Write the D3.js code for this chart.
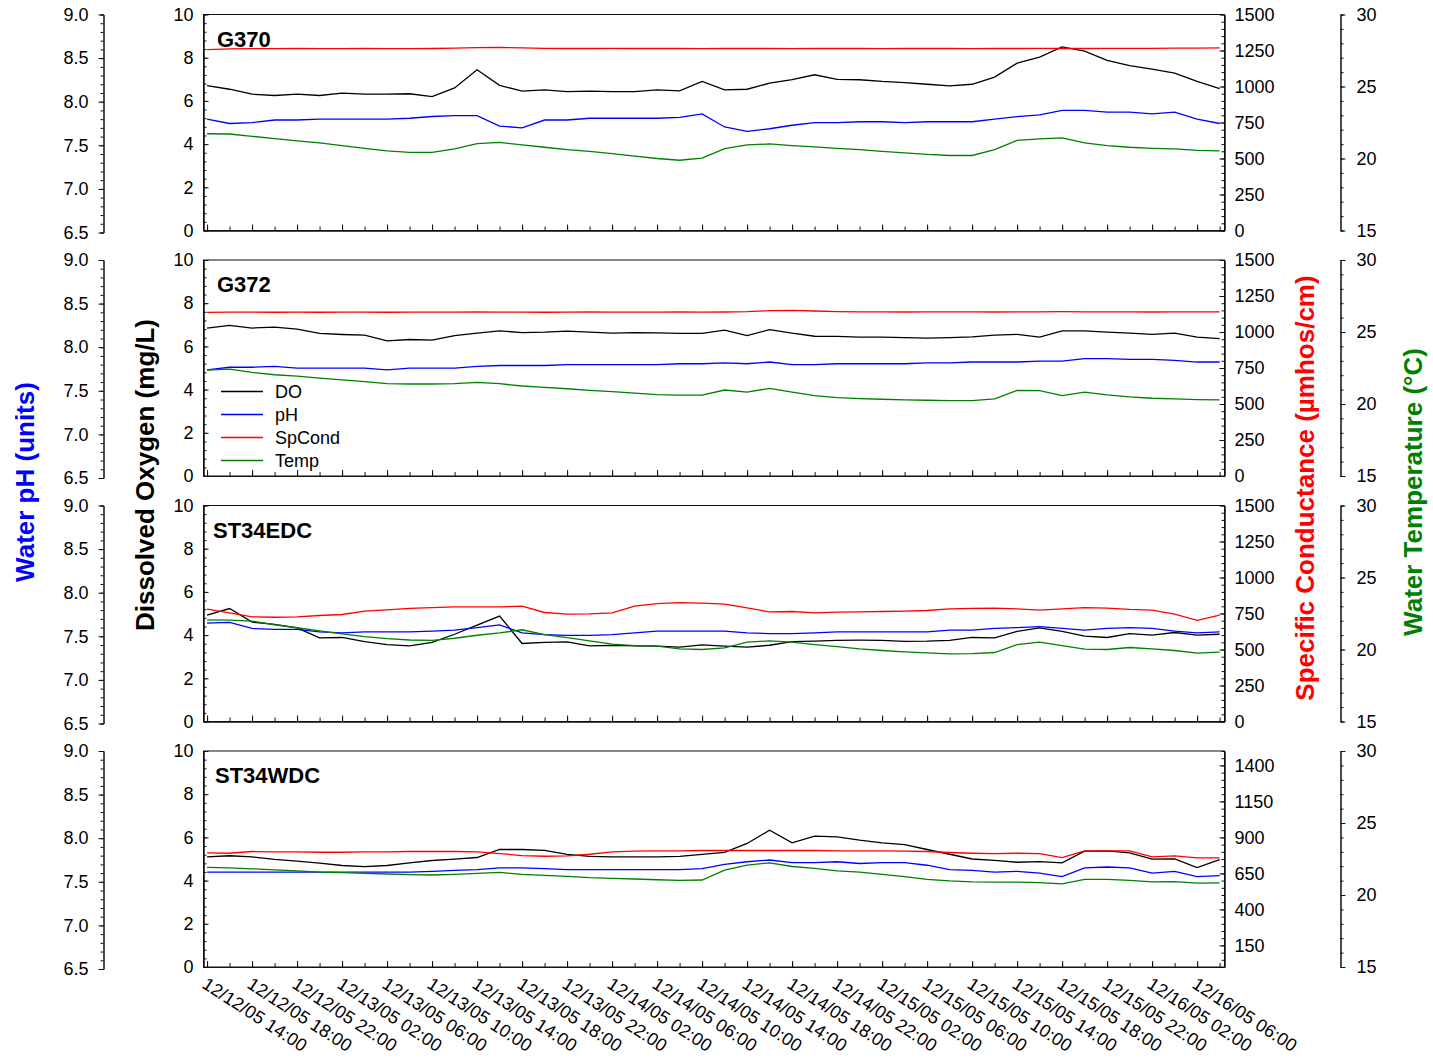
<!DOCTYPE html>
<html>
<head>
<meta charset="utf-8">
<script src="https://cdn.jsdelivr.net/npm/d3@7"></script>
<style>
  body { margin: 0; background: #fff; }
  text { font-family: "Liberation Sans", Arial, sans-serif; }
</style>
</head>
<body>
<svg width="1433" height="1060"></svg>
<script>
// sample times: every 2 hours from 12/12/05 14:00 to 12/16/05 08:00
var sampleTimes = d3.range(46).map(function(i) { return new Date(2005, 11, 12, 14 + 2 * i); });

var stations = ["G370", "G372", "ST34EDC", "ST34WDC"];

// G370
var doG370 = [6.71,6.54,6.31,6.25,6.31,6.25,6.36,6.31,6.31,6.33,6.20,6.60,7.44,6.72,6.45,6.51,6.43,6.45,6.43,6.43,6.51,6.46,6.90,6.51,6.54,6.82,6.98,7.21,7.00,6.98,6.90,6.85,6.77,6.70,6.77,7.10,7.75,8.03,8.50,8.30,7.88,7.63,7.47,7.29,6.90,6.57];
var phG370 = [7.80,7.75,7.76,7.79,7.79,7.80,7.80,7.80,7.80,7.81,7.83,7.84,7.84,7.72,7.70,7.79,7.79,7.81,7.81,7.81,7.81,7.82,7.86,7.71,7.66,7.69,7.73,7.76,7.76,7.77,7.77,7.76,7.77,7.77,7.77,7.80,7.83,7.85,7.90,7.90,7.88,7.88,7.86,7.88,7.80,7.75];
var scG370 = [1256,1261,1263,1263,1264,1263,1263,1264,1263,1263,1264,1266,1270,1272,1268,1265,1264,1264,1265,1264,1264,1264,1263,1264,1264,1264,1263,1264,1264,1264,1263,1264,1264,1264,1263,1264,1264,1265,1264,1264,1265,1265,1265,1266,1267,1268];
var tempG370 = [21.72,21.70,21.54,21.38,21.22,21.08,20.90,20.71,20.53,20.43,20.43,20.67,21.03,21.12,20.94,20.78,20.62,20.50,20.34,20.16,20.00,19.88,20.02,20.69,20.94,21.01,20.90,20.81,20.71,20.62,20.50,20.39,20.28,20.21,20.21,20.62,21.26,21.36,21.43,21.08,20.90,20.78,20.71,20.67,20.57,20.53];

// G372
var doG372 = [6.85,6.97,6.85,6.89,6.80,6.60,6.55,6.52,6.26,6.32,6.29,6.50,6.61,6.72,6.64,6.66,6.71,6.66,6.61,6.64,6.63,6.60,6.60,6.75,6.50,6.78,6.61,6.47,6.46,6.43,6.43,6.41,6.38,6.41,6.44,6.52,6.56,6.43,6.72,6.72,6.66,6.61,6.56,6.61,6.43,6.36];
var phG372 = [7.74,7.77,7.77,7.78,7.76,7.76,7.76,7.76,7.74,7.76,7.76,7.76,7.78,7.79,7.79,7.79,7.80,7.80,7.80,7.80,7.80,7.81,7.81,7.82,7.81,7.83,7.80,7.80,7.81,7.81,7.81,7.81,7.82,7.82,7.83,7.83,7.83,7.84,7.84,7.87,7.87,7.86,7.86,7.85,7.83,7.83];
var scG372 = [1136,1138,1138,1137,1138,1137,1138,1138,1137,1138,1138,1138,1139,1138,1138,1137,1138,1139,1138,1138,1138,1139,1138,1139,1141,1148,1150,1146,1142,1140,1140,1139,1140,1140,1140,1139,1140,1140,1141,1140,1140,1140,1139,1140,1140,1140];
var tempG372 = [22.35,22.42,22.19,22.03,21.94,21.80,21.68,21.55,21.41,21.39,21.39,21.41,21.50,21.41,21.25,21.16,21.06,20.95,20.86,20.75,20.65,20.61,20.61,20.97,20.82,21.09,20.82,20.58,20.44,20.38,20.33,20.29,20.26,20.24,20.24,20.35,20.95,20.93,20.58,20.82,20.63,20.49,20.40,20.35,20.31,20.29];

// ST34EDC
var doEDC = [4.92,5.23,4.60,4.50,4.33,3.87,3.89,3.70,3.56,3.50,3.66,4.04,4.46,4.88,3.61,3.66,3.69,3.50,3.52,3.50,3.49,3.44,3.55,3.49,3.44,3.53,3.70,3.72,3.76,3.77,3.76,3.71,3.72,3.76,3.89,3.87,4.17,4.33,4.17,3.95,3.89,4.07,4.00,4.12,4.00,4.04];
var phEDC = [7.65,7.66,7.59,7.58,7.58,7.55,7.54,7.55,7.55,7.55,7.56,7.57,7.60,7.63,7.54,7.52,7.51,7.51,7.52,7.54,7.56,7.56,7.56,7.56,7.54,7.53,7.53,7.54,7.55,7.55,7.55,7.55,7.55,7.57,7.57,7.59,7.60,7.61,7.59,7.57,7.59,7.60,7.59,7.56,7.54,7.55];
var scEDC = [780,754,727,724,727,736,743,766,775,785,791,796,796,796,801,757,745,747,754,801,819,826,822,815,789,761,764,754,759,761,764,766,771,782,785,787,782,773,782,791,787,778,773,745,703,738];
var tempEDC = [22.06,22.04,21.97,21.72,21.51,21.30,21.08,20.89,20.75,20.66,20.64,20.78,20.99,21.15,21.37,21.03,20.82,20.60,20.38,20.27,20.23,20.04,20.00,20.11,20.51,20.60,20.51,20.34,20.20,20.04,19.93,19.84,19.77,19.70,19.72,19.79,20.34,20.51,20.27,20.02,20.00,20.14,20.04,19.93,19.75,19.82];

// ST34WDC
var doWDC = [5.10,5.15,5.10,4.98,4.90,4.81,4.70,4.65,4.70,4.82,4.93,4.99,5.07,5.44,5.44,5.40,5.21,5.12,5.10,5.10,5.10,5.12,5.21,5.31,5.72,6.33,5.75,6.06,6.02,5.87,5.75,5.67,5.44,5.22,5.00,4.94,4.85,4.88,4.82,5.36,5.38,5.28,4.99,5.00,4.60,4.97];
var phWDC = [7.61,7.61,7.61,7.61,7.61,7.61,7.61,7.61,7.61,7.61,7.62,7.63,7.64,7.66,7.66,7.65,7.64,7.64,7.64,7.64,7.64,7.64,7.65,7.70,7.73,7.75,7.72,7.72,7.73,7.71,7.72,7.72,7.69,7.64,7.63,7.61,7.62,7.60,7.56,7.66,7.67,7.66,7.60,7.62,7.56,7.57];
var scWDC = [792,790,802,799,799,797,797,799,799,802,802,802,799,788,774,769,772,783,799,805,806,806,809,809,809,809,809,809,806,806,806,804,802,795,790,788,790,788,760,806,806,806,765,772,758,758];
var tempWDC = [21.92,21.89,21.82,21.75,21.68,21.59,21.55,21.50,21.46,21.41,21.39,21.43,21.50,21.57,21.43,21.36,21.30,21.20,21.16,21.11,21.06,21.02,21.04,21.73,22.07,22.23,21.98,21.85,21.68,21.59,21.43,21.27,21.09,20.98,20.91,20.89,20.89,20.86,20.77,21.09,21.09,21.02,20.91,20.93,20.82,20.84];

// axis ticks
var doTicks = [0, 2, 4, 6, 8, 10];
var phTicks = [6.5, 7.0, 7.5, 8.0, 8.5, 9.0];
var tempTicks = [15, 20, 25, 30];
var scTicksStd = [0, 250, 500, 750, 1000, 1250, 1500];
var scTicksWDC = [150, 400, 650, 900, 1150, 1400];

var seriesNames = ["DO", "pH", "SpCond", "Temp"];
var seriesColors = ["#000000", "#0000ff", "#ff0000", "#008000"];

var panels = [
  { name: stations[0], data: [doG370, phG370, scG370, tempG370], scTicks: scTicksStd, titleX: 217 },
  { name: stations[1], data: [doG372, phG372, scG372, tempG372], scTicks: scTicksStd, titleX: 217, legend: true },
  { name: stations[2], data: [doEDC, phEDC, scEDC, tempEDC], scTicks: scTicksStd, titleX: 213 },
  { name: stations[3], data: [doWDC, phWDC, scWDC, tempWDC], scTicks: scTicksWDC, titleX: 215 }
];

var svg = d3.select("svg");
var left = 203.5, right = 1224.5;
var phX = 103.5, tempX = 1340.5;
var plotH = 216, outerH = 218, step = 245.5, top0 = 14.5;

// time scale
var x = d3.scaleTime()
    .domain([new Date(2005, 11, 12, 13, 41), new Date(2005, 11, 16, 8, 26)])
    .range([left, right]);
var allTicks = d3.timeHour.every(2).range(new Date(2005, 11, 12, 14), new Date(2005, 11, 16, 9));
var majorTicks = allTicks.filter(function(d) { return d.getHours() % 4 === 2; });
var fmt = d3.timeFormat("%m/%d/%y %H:%M");

function styleAxis(g) {
  g.selectAll("path, line").attr("stroke", "#111").attr("stroke-width", 1);
  g.selectAll("text").attr("font-size", 18).attr("fill", "#000")
    .attr("font-family", "\"Liberation Sans\", Arial, sans-serif");
}

panels.forEach(function(p, k) {
  var top = top0 + step * k;
  var yDO = d3.scaleLinear().domain([0, 10]).range([top + plotH, top]);
  var yPH = d3.scaleLinear().domain([6.5, 9]).range([top + outerH, top]);
  var ySC = d3.scaleLinear().domain([0, 1500]).range([top + plotH, top]);
  var yT = d3.scaleLinear().domain([15, 30]).range([top + plotH, top]);
  var yScales = [yDO, yPH, ySC, yT];

  var g = svg.append("g").attr("class", "panel");

  // frame
  g.append("rect")
    .attr("x", left).attr("y", top)
    .attr("width", right - left).attr("height", plotH)
    .attr("fill", "none").attr("stroke", "#111");

  // lines
  seriesNames.forEach(function(s, j) {
    var line = d3.line()
      .x(function(d, i) { return x(sampleTimes[i]); })
      .y(function(d) { return yScales[j](d); });
    g.append("path")
      .datum(p.data[j])
      .attr("fill", "none")
      .attr("stroke", seriesColors[j])
      .attr("stroke-width", 1.3)
      .attr("d", line);
  });

  // DO axis (left of plot, ticks inward)
  g.append("g").attr("transform", "translate(" + left + ",0)")
    .call(d3.axisLeft(yDO).tickValues(d3.range(0, 10.01, 0.4)).tickSizeInner(-3).tickSizeOuter(0).tickFormat(""))
    .call(styleAxis);
  g.append("g").attr("transform", "translate(" + left + ",0)")
    .call(d3.axisLeft(yDO).tickValues(doTicks).tickSizeInner(-5).tickSizeOuter(0).tickPadding(10))
    .call(styleAxis);

  // pH axis
  g.append("g").attr("transform", "translate(" + phX + ",0)")
    .call(d3.axisLeft(yPH).tickValues(d3.range(6.5, 9.01, 0.1)).tickSize(3).tickFormat(""))
    .call(styleAxis);
  g.append("g").attr("transform", "translate(" + phX + ",0)")
    .call(d3.axisLeft(yPH).tickValues(phTicks).tickSizeInner(5).tickSizeOuter(0).tickPadding(10).tickFormat(d3.format(".1f")))
    .call(styleAxis);

  // SpCond axis (right of plot, ticks inward)
  g.append("g").attr("transform", "translate(" + right + ",0)")
    .call(d3.axisRight(ySC).tickValues(d3.range(0, 1501, 50)).tickSizeInner(-3).tickSizeOuter(0).tickFormat(""))
    .call(styleAxis);
  g.append("g").attr("transform", "translate(" + right + ",0)")
    .call(d3.axisRight(ySC).tickValues(p.scTicks).tickSizeInner(-5).tickSizeOuter(0).tickPadding(10).tickFormat(d3.format("d")))
    .call(styleAxis);

  // temperature axis
  g.append("g").attr("transform", "translate(" + tempX + ",0)")
    .call(d3.axisRight(yT).tickValues(d3.range(15, 30.01, 1)).tickSize(3).tickFormat(""))
    .call(styleAxis);
  g.append("g").attr("transform", "translate(" + tempX + ",0)")
    .call(d3.axisRight(yT).tickValues(tempTicks).tickSizeInner(5).tickSizeOuter(0).tickPadding(11))
    .call(styleAxis);

  // time axis ticks (inward)
  g.append("g").attr("transform", "translate(0," + (top + plotH) + ")")
    .call(d3.axisBottom(x).tickValues(allTicks).tickSizeInner(-4).tickSizeOuter(0).tickFormat(""))
    .call(styleAxis);
  g.append("g").attr("transform", "translate(0," + (top + plotH) + ")")
    .call(d3.axisBottom(x).tickValues(majorTicks).tickSizeInner(-6).tickSizeOuter(0).tickFormat(""))
    .call(styleAxis);

  // station title
  g.append("text")
    .attr("x", p.titleX).attr("y", top + 32)
    .attr("font-size", 22).attr("font-weight", "bold")
    .text(p.name);

  // legend
  if (p.legend) {
    var lg = g.append("g").attr("transform", "translate(221," + (top + 131.5) + ")");
    seriesNames.forEach(function(s, j) {
      lg.append("line")
        .attr("x1", 0).attr("x2", 42)
        .attr("y1", j * 23).attr("y2", j * 23)
        .attr("stroke", seriesColors[j]).attr("stroke-width", 1.3);
      lg.append("text")
        .attr("x", 54).attr("y", j * 23).attr("dy", "0.35em")
        .attr("font-size", 18)
        .text(s);
    });
  }

  // date labels on the last panel
  if (k === panels.length - 1) {
    g.selectAll("text.date")
      .data(majorTicks)
      .enter().append("text")
      .attr("class", "date")
      .attr("font-size", 18)
      .attr("transform", function(d) {
        return "translate(" + (x(d) - 6) + "," + (top + plotH + 20) + ") rotate(33)";
      })
      .text(fmt);
  }
});

// axis titles
var titles = [
  { text: "Water pH (units)", x: 25, y: 482, color: "#0000ff" },
  { text: "Dissolved Oxygen (mg/L)", x: 145, y: 475, color: "#000000" },
  { text: "Specific Conductance (\u00b5mhos/cm)", x: 1305, y: 488, color: "#ff0000" },
  { text: "Water Temperature (\u00b0C)", x: 1413, y: 492, color: "#008000" }
];
svg.selectAll("text.axis-title")
  .data(titles)
  .enter().append("text")
  .attr("class", "axis-title")
  .attr("transform", function(d) { return "translate(" + d.x + "," + d.y + ") rotate(-90)"; })
  .attr("text-anchor", "middle")
  .attr("dy", "0.35em")
  .attr("font-size", 26)
  .attr("font-weight", "bold")
  .attr("fill", function(d) { return d.color; })
  .text(function(d) { return d.text; });
</script>
</body>
</html>
